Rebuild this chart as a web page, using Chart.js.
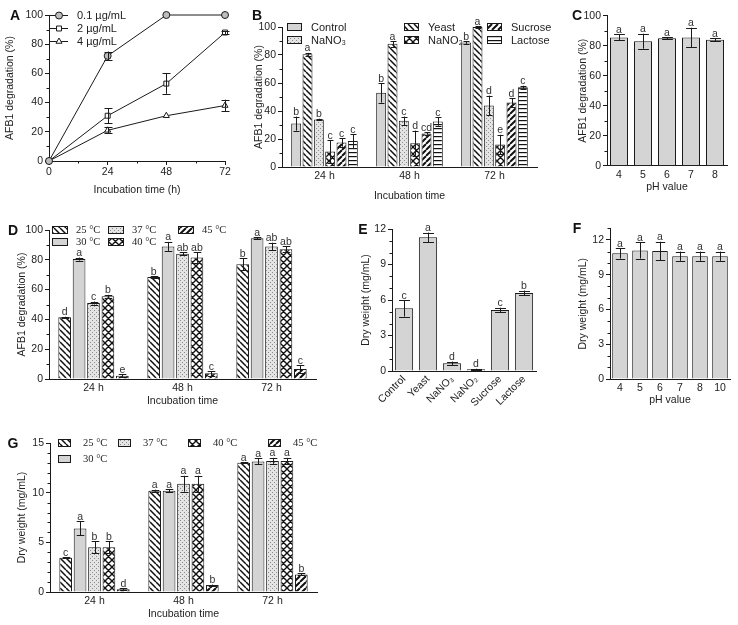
<!DOCTYPE html>
<html>
<head>
<meta charset="utf-8">
<script src="https://cdn.jsdelivr.net/npm/chart.js@4.4.1/dist/chart.umd.min.js"></script>
<style>
  html, body { margin: 0; padding: 0; background: #fff; }
  #page { position: relative; width: 738px; height: 625px; overflow: hidden; }
  #page canvas { position: absolute; left: 0; top: 0; }
  .tag { position: absolute; font: bold 14px "Liberation Sans", Arial, sans-serif; color: #111; transform: translate(-50%, -50%); }
</style>
</head>
<body>
<div id="page">
  <canvas id="chartA" width="738" height="625"></canvas>
  <canvas id="chartB" width="738" height="625"></canvas>
  <canvas id="chartC" width="738" height="625"></canvas>
  <canvas id="chartD" width="738" height="625"></canvas>
  <canvas id="chartE" width="738" height="625"></canvas>
  <canvas id="chartF" width="738" height="625"></canvas>
  <canvas id="chartG" width="738" height="625"></canvas>
  <div class="tag" style="left:15px;top:15px">A</div>
  <div class="tag" style="left:257px;top:15px">B</div>
  <div class="tag" style="left:577px;top:15px">C</div>
  <div class="tag" style="left:13px;top:230px">D</div>
  <div class="tag" style="left:363px;top:229px">E</div>
  <div class="tag" style="left:577px;top:228px">F</div>
  <div class="tag" style="left:13px;top:443px">G</div>
</div>
<script>
// ---- data ----

// A: degradation vs time for three AFB1 concentrations
const hoursA = [0, 24, 48, 72];
const hourTicksA = [0, 24, 48, 72];
const conc01 = [0, 72, 100, 100];
const conc01Err = [0, 3, 0, 0];
const conc2 = [0, 31, 53, 88];
const conc2Err = [0, 5, 7, 1];
const conc4 = [0, 21, 31, 38];
const conc4Err = [0, 2, 0, 4];

const timeGroups = ['24 h', '48 h', '72 h'];
const pctTicks = [0, 20, 40, 60, 80, 100];

// B: nitrogen / carbon sources
const controlB = [31, 53, 89];
const controlBErr = [5, 7, 1];
const controlBLet = ['b', 'b', 'b'];
const yeastB = [80.5, 88, 100];
const yeastBErr = [1, 2, 0.5];
const yeastBLet = ['a', 'a', 'a'];
const nano3B = [34, 33, 44];
const nano3BErr = [0.5, 3, 7];
const nano3BLet = ['b', 'c', 'd'];
const nano2B = [11, 17, 16];
const nano2BErr = [8, 9, 7];
const nano2BLet = ['c', 'd', 'e'];
const sucroseB = [17.5, 24, 46];
const sucroseBErr = [3, 1, 3];
const sucroseBLet = ['c', 'cd', 'd'];
const lactoseB = [18.5, 32.5, 57];
const lactoseBErr = [5, 3, 1];
const lactoseBLet = ['c', 'c', 'c'];

// C: pH
const phC = ['4', '5', '6', '7', '8'];
const degC = [85.5, 83, 85, 85.5, 84];
const degCErr = [2, 5, 0.5, 6.5, 1];
const degCLet = ['a', 'a', 'a', 'a', 'a'];

// D: temperature, degradation
const t25D = [41.5, 68.5, 77];
const t25DErr = [0.3, 0.5, 4];
const t25DLet = ['d', 'b', 'b'];
const t30D = [80.5, 89, 94.5];
const t30DErr = [1, 3, 0.5];
const t30DLet = ['a', 'a', 'a'];
const t37D = [51, 84, 89];
const t37DErr = [1, 1, 2.5];
const t37DLet = ['c', 'ab', 'ab'];
const t40D = [55.5, 81.5, 87];
const t40DErr = [1, 3.5, 2];
const t40DLet = ['b', 'ab', 'ab'];
const t45D = [2.2, 3.8, 6.7];
const t45DErr = [1, 1.5, 2.5];
const t45DLet = ['e', 'c', 'c'];

// E: dry weight by source
const sourcesE = ['Control', 'Yeast', 'NaNO\u2083', 'NaNO\u2082', 'Sucrose', 'Lactose'];
const dryE = [5.3, 11.3, 0.65, 0.14, 5.15, 6.6];
const dryEErr = [0.7, 0.4, 0.15, 0.05, 0.2, 0.2];
const dryELet = ['c', 'a', 'd', 'd', 'c', 'b'];
const dryTicksE = [0, 3, 6, 9, 12];

// F: dry weight by pH
const phF = ['4', '5', '6', '7', '8', '10'];
const dryF = [10.85, 11.1, 11.05, 10.6, 10.6, 10.6];
const dryFErr = [0.45, 0.7, 0.8, 0.4, 0.4, 0.4];
const dryFLet = ['a', 'a', 'a', 'a', 'a', 'a'];
const dryTicksF = [0, 3, 6, 9, 12];

// G: temperature, dry weight
const t25G = [3.45, 10.2, 13.0];
const t25GErr = [0.05, 0.1, 0.05];
const t25GLet = ['c', 'a', 'a'];
const t30G = [6.4, 10.2, 13.15];
const t30GErr = [0.7, 0.15, 0.3];
const t30GLet = ['a', 'a', 'a'];
const t37G = [4.5, 10.9, 13.2];
const t37GErr = [0.6, 0.8, 0.3];
const t37GLet = ['b', 'a', 'a'];
const t40G = [4.5, 10.9, 13.2];
const t40GErr = [0.6, 0.8, 0.3];
const t40GLet = ['b', 'a', 'a'];
const t45G = [0.27, 0.7, 1.77];
const t45GErr = [0.1, 0.05, 0.1];
const t45GLet = ['d', 'b', 'b'];
const dryTicksG = [0, 5, 10, 15];

// ---- styling helpers ----

const SANS = '"Liberation Sans", Arial, sans-serif';
const SERIF = '"Liberation Serif", "Times New Roman", serif';
const INK = '#1a1a1a';
Chart.defaults.font.family = SANS;
Chart.defaults.font.size = 10.5;
Chart.defaults.color = '#222';

function makePattern(kind) {
  let s = 6;
  if (kind === 'lines' || kind === 'dots') s = 4;
  if (kind === 'cross') s = 7;
  const c = document.createElement('canvas');
  c.width = s; c.height = s;
  const g = c.getContext('2d');
  g.fillStyle = kind === 'dots' ? '#e4e4e4' : '#fff';
  g.fillRect(0, 0, s, s);
  g.strokeStyle = '#111';
  g.fillStyle = '#111';
  g.beginPath();
  if (kind === 'back' || kind === 'cross') {
    g.lineWidth = kind === 'cross' ? 1.4 : 1.5;
    for (let k = -1; k <= 1; k++) { g.moveTo(k * s, 0); g.lineTo(k * s + s, s); }
  }
  if (kind === 'fwd' || kind === 'cross') {
    g.lineWidth = kind === 'cross' ? 1.4 : 2;
    for (let k = -1; k <= 1; k++) { g.moveTo(k * s, s); g.lineTo(k * s + s, 0); }
  }
  g.stroke();
  if (kind === 'lines') g.fillRect(0, 0, s, 1.2);
  if (kind === 'dots') {
    g.fillStyle = '#8c8c8c';
    g.fillRect(0, 0, 1, 1);
    g.fillRect(2, 2, 1, 1);
  }
  return g.createPattern(c, 'repeat');
}

const fills = {
  gray: '#d4d4d4',
  back: makePattern('back'),
  fwd: makePattern('fwd'),
  cross: makePattern('cross'),
  dots: makePattern('dots'),
  lines: makePattern('lines')
};

// error bars + significance letters, drawn through the y scale
const errorBarPlugin = {
  id: 'errorBars',
  afterDatasetsDraw(chart, args, opts) {
    const ctx = chart.ctx;
    const yScale = chart.scales.y;
    ctx.save();
    ctx.strokeStyle = INK;
    ctx.lineWidth = 1;
    ctx.font = '10.5px ' + SANS;
    ctx.textAlign = 'center';
    ctx.textBaseline = 'alphabetic';
    chart.data.datasets.forEach((ds, di) => {
      if (!ds.errors) return;
      const meta = chart.getDatasetMeta(di);
      meta.data.forEach((el, i) => {
        const raw = ds.data[i];
        const val = typeof raw === 'object' ? raw.y : raw;
        const err = ds.errors[i] || 0;
        const x = Math.round(el.x) + 0.5;
        const cap = el.width ? el.width * 0.6 : (opts.cap || 8);
        const yTop = yScale.getPixelForValue(val + err);
        const yBot = yScale.getPixelForValue(Math.max(0, val - err));
        if (err > 0) {
          ctx.beginPath();
          ctx.moveTo(x, yTop); ctx.lineTo(x, yBot);
          ctx.moveTo(x - cap / 2, Math.round(yTop) + 0.5); ctx.lineTo(x + cap / 2, Math.round(yTop) + 0.5);
          ctx.moveTo(x - cap / 2, Math.round(yBot) + 0.5); ctx.lineTo(x + cap / 2, Math.round(yBot) + 0.5);
          ctx.stroke();
        }
        if (ds.letters) {
          ctx.fillStyle = '#333';
          ctx.fillText(ds.letters[i], el.x, yTop - 1.5);
        }
      });
    });
    ctx.restore();
  }
};

// small ticks between the labelled ones
const minorTickPlugin = {
  id: 'minorTicks',
  afterDraw(chart, args, opts) {
    if (!opts || !opts.steps) return;
    const ctx = chart.ctx;
    ctx.save();
    ctx.strokeStyle = INK;
    ctx.lineWidth = 1;
    ctx.beginPath();
    Object.keys(opts.steps).forEach(id => {
      const sc = chart.scales[id];
      const step = opts.steps[id];
      for (let v = sc.min; v <= sc.max + 1e-9; v += step) {
        if (sc.ticks.some(t => Math.abs(t.value - v) < 1e-6)) continue;
        const p = Math.round(sc.getPixelForValue(v)) + 0.5;
        if (sc.isHorizontal()) { ctx.moveTo(p, sc.top); ctx.lineTo(p, sc.top + 2.5); }
        else { ctx.moveTo(sc.right, p); ctx.lineTo(sc.right - 2.5, p); }
      }
    });
    ctx.stroke();
    ctx.restore();
  }
};

// legend placed freely inside the panel
const swatchLegendPlugin = {
  id: 'swatchLegend',
  afterDraw(chart, args, opts) {
    if (!opts || !opts.items) return;
    const ctx = chart.ctx;
    ctx.save();
    ctx.font = opts.font;
    ctx.textBaseline = 'middle';
    ctx.lineWidth = 1;
    opts.items.forEach(it => {
      const ds = chart.data.datasets[it.ds];
      if (opts.kind === 'line') {
        ctx.strokeStyle = INK;
        ctx.beginPath();
        ctx.moveTo(it.x, it.y + 0.5); ctx.lineTo(it.x + opts.w, it.y + 0.5);
        ctx.stroke();
        ctx.fillStyle = ds.pointBackgroundColor;
        Chart.helpers.drawPoint(ctx, { pointStyle: ds.pointStyle, radius: ds.pointRadius, rotation: 0, borderWidth: 1 }, it.x + opts.w / 2, it.y + 0.5);
      } else {
        ctx.fillStyle = ds.backgroundColor;
        ctx.fillRect(it.x, it.y - opts.h / 2, opts.w, opts.h);
        ctx.strokeStyle = INK;
        ctx.strokeRect(it.x + 0.5, it.y - opts.h / 2 + 0.5, opts.w - 1, opts.h - 1);
      }
      ctx.fillStyle = '#222';
      ctx.fillText(ds.label, it.x + opts.gap, it.y + 0.5);
    });
    ctx.restore();
  }
};

Chart.register(errorBarPlugin, minorTickPlugin, swatchLegendPlugin);

function axisLine() {
  return { display: true, color: INK, width: 1 };
}

function yAxis(p) {
  return {
    min: p.yMin, max: p.yMax,
    afterBuildTicks: s => { s.ticks = p.yTicks.map(v => ({ value: v })); },
    border: axisLine(),
    grid: { drawOnChartArea: false, drawTicks: true, tickLength: 4, color: INK },
    ticks: { padding: 2, color: '#222' },
    title: { display: true, text: p.yTitle, padding: 0, color: '#222' }
  };
}

function xCategory(p) {
  return {
    type: 'category',
    border: axisLine(),
    grid: { display: false, drawTicks: false },
    ticks: { padding: p.xPad, autoSkip: false, maxRotation: p.rot || 0, minRotation: p.rot || 0, color: '#222' },
    title: p.xTitle ? { display: true, text: p.xTitle, padding: 0, color: '#222' } : { display: false }
  };
}

function panelOptions(p, xScale, yScale, plugins) {
  const yW = p.area.l - p.yTitleX + 6.3;
  const xH = p.xTitleY ? p.xTitleY - p.area.b + 6.3 : p.xHeight;
  xScale.afterFit = s => { s.height = xH; };
  yScale.afterFit = s => { s.width = yW; };
  return {
    responsive: false,
    animation: false,
    events: [],
    layout: { padding: { left: p.area.l - yW, top: p.area.t, right: 738 - p.area.r, bottom: 625 - p.area.b - xH } },
    scales: { x: xScale, y: yScale },
    plugins: Object.assign({ legend: { display: false }, tooltip: { enabled: false } }, plugins)
  };
}

function barSet(label, values, errs, letters, fill) {
  return { label: label, data: values, errors: errs, letters: letters, backgroundColor: fill, borderColor: INK, borderWidth: 1 };
}

function lineSet(label, values, errs, style, fill) {
  return {
    label: label,
    data: hoursA.map((h, i) => ({ x: h, y: values[i] })),
    errors: errs,
    borderColor: INK, borderWidth: 1, tension: 0, clip: false,
    pointStyle: style, pointRadius: 3.5, pointBorderWidth: 1,
    pointBackgroundColor: fill, pointBorderColor: INK
  };
}

// ---- panel A ----
const pA = { area: { l: 49, t: 15, r: 225, b: 161 }, yTitle: 'AFB1 degradation (%)', yTitleX: 10,
  xTitle: 'Incubation time (h)', xTitleY: 190, yMin: 0, yMax: 100, yTicks: pctTicks };
const xA = {
  type: 'linear', min: 0, max: 72,
  afterBuildTicks: s => { s.ticks = hourTicksA.map(v => ({ value: v })); },
  border: axisLine(),
  grid: { drawOnChartArea: false, drawTicks: true, tickLength: 4, color: INK },
  ticks: { padding: 1, color: '#222' },
  title: { display: true, text: pA.xTitle, padding: 0, color: '#222' }
};
new Chart(document.getElementById('chartA'), {
  type: 'line',
  data: { datasets: [
    lineSet('0.1 \u00b5g/mL', conc01, conc01Err, 'circle', '#bdbdbd'),
    lineSet('2 \u00b5g/mL', conc2, conc2Err, 'rect', '#fff'),
    lineSet('4 \u00b5g/mL', conc4, conc4Err, 'triangle', '#fff')
  ] },
  options: panelOptions(pA, xA, yAxis(pA), {
    errorBars: { cap: 8 },
    minorTicks: { steps: { x: 12, y: 10 } },
    swatchLegend: { kind: 'line', font: '11px ' + SANS, w: 18, gap: 27,
      items: [{ ds: 0, x: 50, y: 15 }, { ds: 1, x: 50, y: 28 }, { ds: 2, x: 50, y: 41 }] }
  })
});

// ---- panel B ----
const pB = { area: { l: 282, t: 27, r: 537, b: 167 }, yTitle: 'AFB1 degradation (%)', yTitleX: 259,
  xTitle: 'Incubation time', xTitleY: 196, xPad: 3, yMin: 0, yMax: 100, yTicks: pctTicks };
new Chart(document.getElementById('chartB'), {
  type: 'bar',
  data: { labels: timeGroups, datasets: [
    barSet('Control', controlB, controlBErr, controlBLet, fills.gray),
    barSet('Yeast', yeastB, yeastBErr, yeastBLet, fills.back),
    barSet('NaNO\u2083', nano3B, nano3BErr, nano3BLet, fills.dots),
    barSet('NaNO\u2082', nano2B, nano2BErr, nano2BLet, fills.cross),
    barSet('Sucrose', sucroseB, sucroseBErr, sucroseBLet, fills.fwd),
    barSet('Lactose', lactoseB, lactoseBErr, lactoseBLet, fills.lines)
  ] },
  options: Object.assign(panelOptions(pB, xCategory(pB), yAxis(pB), {
    minorTicks: { steps: { y: 10 } },
    swatchLegend: { kind: 'box', font: '11px ' + SANS, w: 15, h: 8, gap: 24,
      items: [{ ds: 0, x: 287, y: 27 }, { ds: 1, x: 404, y: 27 }, { ds: 4, x: 487, y: 27 },
              { ds: 2, x: 287, y: 40 }, { ds: 3, x: 404, y: 40 }, { ds: 5, x: 487, y: 40 }] }
  }), { datasets: { bar: { categoryPercentage: 0.8, barPercentage: 0.88 } } })
});

// ---- panel C ----
const pC = { area: { l: 607, t: 15.7, r: 727, b: 165.7 }, yTitle: 'AFB1 degradation (%)', yTitleX: 583,
  xTitle: 'pH value', xTitleY: 187, xPad: 3, yMin: 0, yMax: 100, yTicks: pctTicks };
new Chart(document.getElementById('chartC'), {
  type: 'bar',
  data: { labels: phC, datasets: [barSet('pH', degC, degCErr, degCLet, fills.gray)] },
  options: Object.assign(panelOptions(pC, xCategory(pC), yAxis(pC), {
    minorTicks: { steps: { y: 10 } }
  }), { datasets: { bar: { categoryPercentage: 1, barPercentage: 0.75 } } })
});

// ---- panel D ----
const pD = { area: { l: 49, t: 230, r: 316, b: 379 }, yTitle: 'AFB1 degradation (%)', yTitleX: 22,
  xTitle: 'Incubation time', xTitleY: 401, xPad: 3, yMin: 0, yMax: 100, yTicks: pctTicks };
new Chart(document.getElementById('chartD'), {
  type: 'bar',
  data: { labels: timeGroups, datasets: [
    barSet('25 \u00b0C', t25D, t25DErr, t25DLet, fills.back),
    barSet('30 \u00b0C', t30D, t30DErr, t30DLet, fills.gray),
    barSet('37 \u00b0C', t37D, t37DErr, t37DLet, fills.dots),
    barSet('40 \u00b0C', t40D, t40DErr, t40DLet, fills.cross),
    barSet('45 \u00b0C', t45D, t45DErr, t45DLet, fills.fwd)
  ] },
  options: Object.assign(panelOptions(pD, xCategory(pD), yAxis(pD), {
    minorTicks: { steps: { y: 10 } },
    swatchLegend: { kind: 'box', font: '10.5px ' + SERIF, w: 16, h: 8, gap: 24,
      items: [{ ds: 0, x: 52, y: 230 }, { ds: 2, x: 108, y: 230 }, { ds: 4, x: 178, y: 230 },
              { ds: 1, x: 52, y: 242 }, { ds: 3, x: 108, y: 242 }] }
  }), { datasets: { bar: { categoryPercentage: 0.81, barPercentage: 0.88 } } })
});

// ---- panel E ----
const pE = { area: { l: 392, t: 229, r: 536, b: 371 }, yTitle: 'Dry weight (mg/mL)', yTitleX: 366,
  xHeight: 50, xPad: 2, rot: 45, yMin: 0, yMax: 12, yTicks: dryTicksE };
new Chart(document.getElementById('chartE'), {
  type: 'bar',
  data: { labels: sourcesE, datasets: [barSet('Dry weight', dryE, dryEErr, dryELet, fills.gray)] },
  options: Object.assign(panelOptions(pE, xCategory(pE), yAxis(pE), {
    minorTicks: { steps: { y: 1 } }
  }), { datasets: { bar: { categoryPercentage: 1, barPercentage: 0.76 } } })
});

// ---- panel F ----
const pF = { area: { l: 610, t: 228.4, r: 730, b: 379 }, yTitle: 'Dry weight (mg/mL)', yTitleX: 583,
  xTitle: 'pH value', xTitleY: 400, xPad: 3, yMin: 0, yMax: 13, yTicks: dryTicksF };
new Chart(document.getElementById('chartF'), {
  type: 'bar',
  data: { labels: phF, datasets: [barSet('Dry weight', dryF, dryFErr, dryFLet, fills.gray)] },
  options: Object.assign(panelOptions(pF, xCategory(pF), yAxis(pF), {
    minorTicks: { steps: { y: 1 } }
  }), { datasets: { bar: { categoryPercentage: 1, barPercentage: 0.78 } } })
});

// ---- panel G ----
const pG = { area: { l: 50, t: 443, r: 317, b: 592 }, yTitle: 'Dry weight (mg/mL)', yTitleX: 22,
  xTitle: 'Incubation time', xTitleY: 614, xPad: 3, yMin: 0, yMax: 15, yTicks: dryTicksG };
new Chart(document.getElementById('chartG'), {
  type: 'bar',
  data: { labels: timeGroups, datasets: [
    barSet('25 \u00b0C', t25G, t25GErr, t25GLet, fills.back),
    barSet('30 \u00b0C', t30G, t30GErr, t30GLet, fills.gray),
    barSet('37 \u00b0C', t37G, t37GErr, t37GLet, fills.dots),
    barSet('40 \u00b0C', t40G, t40GErr, t40GLet, fills.cross),
    barSet('45 \u00b0C', t45G, t45GErr, t45GLet, fills.fwd)
  ] },
  options: Object.assign(panelOptions(pG, xCategory(pG), yAxis(pG), {
    minorTicks: { steps: { y: 1 } },
    swatchLegend: { kind: 'box', font: '10.5px ' + SERIF, w: 13, h: 8, gap: 25,
      items: [{ ds: 0, x: 58, y: 443 }, { ds: 2, x: 118, y: 443 }, { ds: 3, x: 188, y: 443 },
              { ds: 4, x: 268, y: 443 }, { ds: 1, x: 58, y: 459 }] }
  }), { datasets: { bar: { categoryPercentage: 0.81, barPercentage: 0.88 } } })
});
</script>
</body>
</html>
